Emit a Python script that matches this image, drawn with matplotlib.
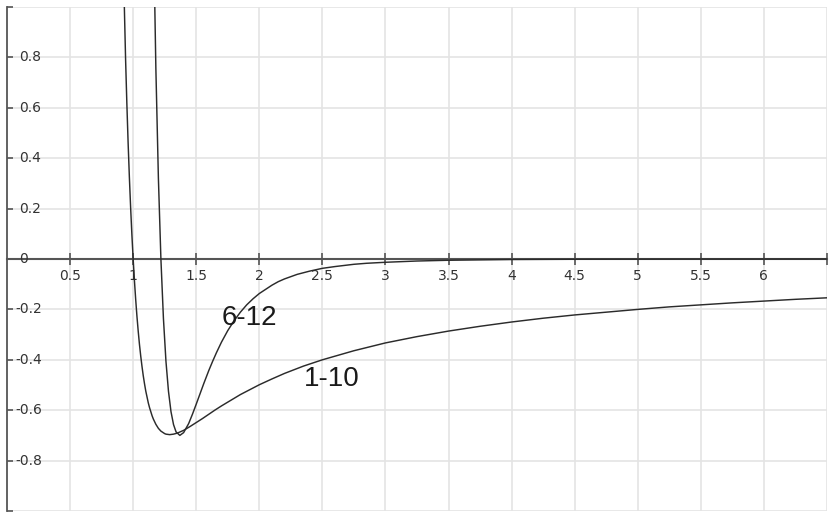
# ============================================================
# Lennard-Jones style potentials: 6-12 vs 1-10
# ============================================================

import matplotlib.pyplot as plt

plt.rcParams['axes.unicode_minus'] = False

# ============================================================
# 1. Data
# ============================================================

# 1-10 curve
r_110 = [0.92, 0.94, 0.95, 0.96, 0.97, 0.98, 0.99, 1.00, 1.01, 1.02, 1.03,
         1.04, 1.05, 1.06, 1.07, 1.08, 1.09, 1.10, 1.12, 1.13, 1.15, 1.16,
         1.18, 1.20, 1.22, 1.25, 1.26, 1.29, 1.32, 1.35, 1.40, 1.45, 1.50,
         1.55, 1.60, 1.65, 1.70, 1.75, 1.80, 1.85, 1.90, 2.00, 2.10, 2.20,
         2.35, 2.50, 2.75, 3.00, 3.25, 3.50, 3.75, 4.00, 4.25, 4.50, 4.75,
         5.00, 5.25, 5.50, 5.75, 6.00, 6.25, 6.50]
v_110 = [1.215, 0.793, 0.618, 0.462, 0.325, 0.204, 0.096, 0.000, -0.085,
         -0.160, -0.227, -0.286, -0.339, -0.385, -0.426, -0.463, -0.495,
         -0.524, -0.571, -0.590, -0.622, -0.635, -0.656, -0.672, -0.683,
         -0.693, -0.695, -0.697, -0.695, -0.691, -0.680, -0.665, -0.649,
         -0.633, -0.616, -0.599, -0.583, -0.568, -0.553, -0.538, -0.525,
         -0.499, -0.476, -0.454, -0.425, -0.400, -0.364, -0.333, -0.308,
         -0.286, -0.267, -0.250, -0.235, -0.222, -0.211, -0.200, -0.190,
         -0.182, -0.174, -0.167, -0.160, -0.154]

# 6-12 curve
r_612 = [1.16, 1.18, 1.20, 1.22, 1.24, 1.26, 1.28, 1.30, 1.32, 1.34, 1.37,
         1.40, 1.44, 1.47, 1.50, 1.53, 1.56, 1.60, 1.63, 1.66, 1.70, 1.75,
         1.80, 1.85, 1.90, 1.95, 2.00, 2.10, 2.15, 2.20, 2.30, 2.40, 2.50,
         2.60, 2.75, 2.85, 3.00, 3.25, 3.50, 4.00, 4.50, 5.00, 5.50, 6.00,
         6.50]
v_612 = [1.339, 0.757, 0.322, 0.000, -0.236, -0.406, -0.525, -0.606,
         -0.657, -0.686, -0.700, -0.689, -0.653, -0.616, -0.576, -0.535,
         -0.494, -0.442, -0.406, -0.372, -0.330, -0.284, -0.245, -0.211,
         -0.182, -0.158, -0.137, -0.104, -0.090, -0.079, -0.061, -0.048,
         -0.037, -0.030, -0.021, -0.017, -0.013, -0.008, -0.005, -0.002,
         -0.001, -0.0006, -0.0003, -0.0002, -0.0001]

# ticks
x_ticks = [0.5, 1, 1.5, 2, 2.5, 3, 3.5, 4, 4.5, 5, 5.5, 6, 6.5]
x_labels = ['0.5', '1', '1.5', '2', '2.5', '3', '3.5', '4', '4.5', '5',
            '5.5', '6', '']
y_ticks = [-1, -0.8, -0.6, -0.4, -0.2, 0, 0.2, 0.4, 0.6, 0.8, 1]
y_labels = ['', '-0.8', '-0.6', '-0.4', '-0.2', '0', '0.2', '0.4', '0.6',
            '0.8', '']

# ============================================================
# 2. Figure
# ============================================================

fig = plt.figure(figsize=(8.37, 5.21), dpi=100)
ax = fig.add_axes([7 / 837, 10 / 521, 820 / 837, 504 / 521])

ax.set_xlim(0, 6.5)
ax.set_ylim(-1, 1)

ax.plot(r_110, v_110, color='#2b2b2b', linewidth=1.05, zorder=3)
ax.plot(r_612, v_612, color='#2b2b2b', linewidth=1.05, zorder=3)

# grid
ax.set_xticks(x_ticks)
ax.set_yticks(y_ticks)
ax.grid(True, color='#e4e4e4', linewidth=1.2, zorder=0)
ax.set_axisbelow(True)

# axes: x axis through y=0, y axis on the left edge
ax.spines['top'].set_visible(False)
ax.spines['right'].set_visible(False)
ax.spines['bottom'].set_position(('data', 0))
ax.spines['bottom'].set_color('#555555')
ax.spines['bottom'].set_linewidth(1.5)
ax.spines['left'].set_color('#555555')
ax.spines['left'].set_linewidth(1.3)

ax.set_xticklabels(x_labels)
ax.tick_params(axis='x', direction='inout', length=9, width=1.2,
               color='#555555', labelcolor='#333333', labelsize=10, pad=3)
ax.tick_params(axis='y', direction='in', length=4, width=1.2,
               color='#555555', labelleft=False)

# y labels sit inside the plot, right of the spine
for yv, lbl in zip(y_ticks, y_labels):
    if lbl == '':
        continue
    dx = 8 if lbl.startswith('-') else 12
    ax.annotate(lbl, xy=(0, yv), xycoords=ax.get_yaxis_transform(),
                xytext=(dx, 0), textcoords='offset pixels',
                ha='left', va='center', fontsize=10, color='#333333')

# curve names
ax.text(1.70, -0.261, '6-12', fontsize=20, family='Liberation Sans',
        color='#1a1a1a', ha='left', va='baseline')
ax.text(2.35, -0.502, '1-10', fontsize=20, family='Liberation Sans',
        color='#1a1a1a', ha='left', va='baseline')

plt.savefig('out.png', dpi=100)
